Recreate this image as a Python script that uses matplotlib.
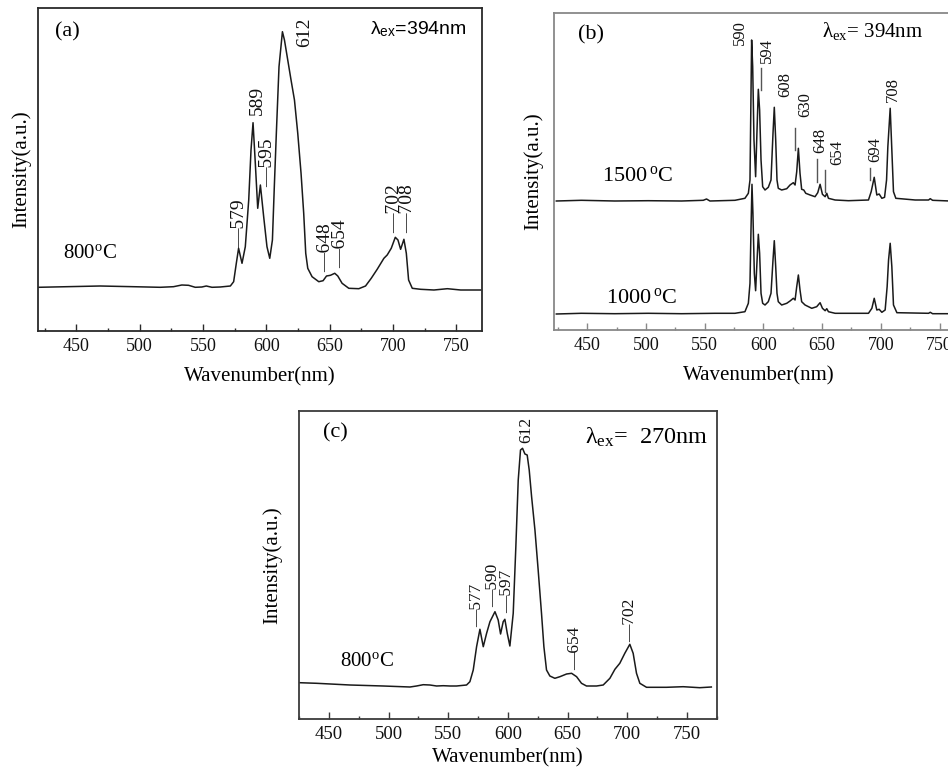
import matplotlib
matplotlib.use("Agg")
import matplotlib.pyplot as plt
from matplotlib.lines import Line2D
from matplotlib.ticker import MultipleLocator

plt.rcParams['font.family'] = ['Liberation Serif', 'DejaVu Serif']
plt.rcParams['mathtext.fontset'] = 'custom'
plt.rcParams['mathtext.rm'] = 'Liberation Serif'
plt.rcParams['mathtext.it'] = 'Liberation Serif:italic'
plt.rcParams['mathtext.bf'] = 'Liberation Serif:bold'
plt.rcParams['mathtext.sf'] = 'Liberation Sans'

# ---------------- data (wavelength nm, intensity a.u.) ----------------
a_wl = [420.0, 442.4, 468.8, 495.1, 516.2, 526.7, 533.3, 538.6, 543.9, 549.1, 552.6, 557.1,
        563.6, 571.6, 574.2, 576.3, 578.1, 580.8, 583.4, 586.1, 587.9, 589.5, 591.3, 593.2,
        595.3, 597.9, 600.5, 602.7, 604.8, 606.3, 607.9, 610.0, 612.7, 614.3, 616.9, 619.5,
        622.2, 624.8, 627.4, 629.5, 631.1, 632.7, 636.1, 641.4, 644.8, 647.5, 650.6, 654.0,
        656.4, 659.8, 665.1, 673.0, 678.3, 682.8, 687.5, 692.8, 695.4, 698.6, 701.8, 703.9,
        706.0, 708.6, 710.5, 712.3, 715.2, 721.8, 732.3, 742.9, 753.4, 769.2]
a_int = [43.7, 44.3, 45.0, 44.3, 43.7, 44.3, 46.0, 45.7, 43.7, 44.0, 45.0, 43.7,
         44.0, 45.0, 49.3, 67.7, 82.7, 67.7, 84.3, 131.0, 181.0, 208.3, 167.7, 122.7,
         146.0, 114.3, 84.3, 72.7, 91.0, 144.3, 197.7, 264.3, 299.3, 291.0, 271.0, 251.0,
         231.0, 197.7, 157.7, 117.7, 77.7, 62.7, 54.3, 49.3, 50.3, 55.0, 55.7, 57.7,
         55.0, 47.7, 42.7, 42.3, 45.0, 52.7, 61.7, 72.7, 76.0, 82.7, 93.7, 91.0,
         81.7, 91.7, 77.7, 51.0, 42.7, 41.7, 41.0, 42.3, 41.0, 41.0]

b1500_wl = [423.7, 445.0, 473.4, 501.9, 530.3, 548.8, 551.6, 554.5, 575.8, 584.3, 587.2, 588.6,
            589.4, 590.0, 590.9, 592.0, 593.4, 594.5, 595.7, 596.8, 598.0, 599.4, 601.4, 604.2,
            606.5, 608.2, 609.3, 610.5, 611.6, 612.7, 615.6, 619.9, 622.7, 625.5, 627.0, 628.4,
            629.8, 631.2, 632.6, 634.4, 636.1, 639.8, 644.0, 646.3, 648.3, 650.3, 652.6, 654.0,
            655.4, 661.1, 672.5, 689.5, 691.8, 694.4, 696.6, 698.6, 700.9, 703.2, 704.9, 706.0,
            708.0, 709.4, 710.8, 712.8, 729.3, 740.7, 742.1, 744.1, 758.9, 770.0]
b1500_int = [129.0, 129.7, 129.0, 129.3, 129.0, 129.7, 131.0, 129.0, 129.7, 131.7, 136.7, 150.0,
             230.0, 290.0, 263.3, 190.0, 153.3, 196.7, 240.7, 220.0, 170.0, 143.3, 140.0, 142.7,
             150.0, 196.7, 222.7, 190.0, 150.0, 141.7, 140.0, 141.3, 145.0, 147.3, 145.0, 158.3,
             181.7, 156.7, 140.7, 140.0, 136.7, 135.0, 133.3, 137.3, 145.7, 135.7, 133.3, 136.7,
             131.7, 130.0, 129.3, 130.0, 138.3, 152.7, 135.0, 136.0, 131.7, 132.7, 150.0, 183.3,
             221.7, 180.0, 138.3, 131.7, 130.0, 130.0, 131.3, 129.7, 129.0, 129.0]

b1000_wl = [423.7, 445.0, 473.4, 501.9, 530.3, 558.7, 575.8, 584.3, 587.2, 588.6, 589.4, 590.3,
            591.1, 592.3, 593.4, 594.5, 595.7, 596.8, 598.0, 599.4, 601.4, 604.2, 606.5, 608.2,
            609.3, 610.5, 611.6, 612.7, 615.6, 619.9, 622.7, 625.5, 627.0, 628.4, 629.8, 631.2,
            632.6, 635.5, 641.2, 645.4, 648.3, 650.3, 652.6, 654.0, 655.4, 661.1, 689.5, 692.4,
            694.4, 696.6, 698.6, 700.9, 703.7, 705.4, 706.6, 708.0, 709.4, 710.8, 713.7, 740.7,
            742.1, 744.1, 758.9, 770.0]
b1000_int = [16.0, 16.7, 16.3, 16.7, 16.3, 16.7, 16.7, 18.3, 26.7, 46.7, 96.7, 145.7,
             116.7, 56.7, 39.3, 66.7, 95.7, 76.7, 36.7, 26.7, 25.0, 28.3, 36.7, 70.0,
             89.3, 63.3, 36.7, 28.3, 25.0, 26.7, 29.0, 31.7, 30.0, 43.3, 55.0, 40.0,
             28.3, 25.0, 21.7, 23.3, 27.3, 21.7, 19.3, 21.3, 18.3, 16.7, 16.7, 21.7,
             31.7, 20.0, 20.7, 17.7, 20.0, 43.3, 70.0, 86.7, 63.3, 25.0, 17.3, 16.7,
             17.7, 16.3, 16.3, 16.3]

c_wl = [425.3, 439.8, 467.7, 495.6, 518.0, 523.5, 529.1, 534.7, 540.3, 545.9, 551.5, 557.0,
        565.4, 568.2, 571.0, 573.8, 576.6, 579.4, 582.2, 585.0, 589.2, 591.9, 593.9, 596.1,
        597.5, 599.5, 601.7, 604.5, 606.7, 608.7, 610.6, 612.3, 614.3, 616.2, 617.9, 619.9,
        622.7, 625.4, 628.2, 630.2, 632.4, 635.2, 639.4, 643.6, 649.2, 653.4, 657.6, 661.7,
        665.9, 674.3, 679.9, 685.5, 689.7, 693.8, 698.0, 702.2, 705.0, 707.8, 710.6, 716.2,
        732.9, 746.9, 760.8, 770.5]
c_int = [36.3, 35.7, 34.0, 33.0, 32.0, 33.0, 34.3, 34.0, 33.0, 33.3, 33.0, 33.0,
         34.0, 37.3, 49.0, 72.3, 89.7, 72.3, 85.7, 97.3, 107.3, 99.0, 85.0, 97.3,
         99.7, 85.7, 73.0, 105.7, 172.3, 239.0, 269.0, 270.7, 265.0, 264.0, 249.0, 222.3,
         189.0, 149.0, 105.7, 72.3, 49.0, 43.0, 40.7, 42.3, 45.0, 45.7, 42.3, 35.7,
         33.0, 33.0, 34.0, 40.7, 49.7, 55.7, 65.7, 74.7, 65.7, 45.7, 35.7, 31.7,
         31.7, 32.3, 31.3, 32.0]

a_peaks = ["579", "589", "595", "612", "648", "654", "702", "708"]
b_peaks = ["590", "594", "608", "630", "648", "654", "694", "708"]
c_peaks = ["577", "590", "597", "612", "654", "702"]

# ---------------- figure ----------------
W, H = 948, 770
fig = plt.figure(figsize=(W / 100, H / 100), dpi=100)
fig.patch.set_facecolor('white')


def box(l, t, r, b):
    return [l / W, 1 - b / H, (r - l) / W, (b - t) / H]


def px(x, y):
    return x / W, 1 - y / H


def ftext(x, y, s, **kw):
    fig.text(*px(x, y), s, **kw)


def vline(x, y0, y1, color='#333333'):
    fig.add_artist(Line2D([x / W, x / W], [1 - y0 / H, 1 - y1 / H],
                          transform=fig.transFigure, color=color, lw=1.0))


def style_axes(ax, xlim, ylim, spine_color, tick_fs):
    ax.set_xlim(*xlim)
    ax.set_ylim(*ylim)
    ax.set_yticks([])
    ax.xaxis.set_major_locator(MultipleLocator(50))
    ax.xaxis.set_minor_locator(MultipleLocator(25))
    ax.tick_params(axis='x', which='both', direction='in', top=False,
                   colors=spine_color, labelcolor='#111111', labelsize=tick_fs, pad=5)
    ax.tick_params(axis='x', which='major', length=5, width=1.0)
    ax.tick_params(axis='x', which='minor', length=2.5, width=1.0)
    for sp in ax.spines.values():
        sp.set_color(spine_color)
        sp.set_linewidth(1.3)
    ax.set_facecolor('white')


line_kw = dict(color='#1a1a1a', lw=1.1)

# ---- (a) ----
ax_a = fig.add_axes(box(38.3, 8, 481.7, 331))
ax_a.plot(a_wl, a_int, **line_kw)
style_axes(ax_a, (420, 770), (0, 323), '#2a2a2a', 13)
ax_a.set_xlabel("Wavenumber(nm)", fontsize=15, labelpad=9)
ax_a.set_ylabel("Intensity(a.u.)", fontsize=15, labelpad=5)

a_lab_pos = [(240, 248, True), (257, 115, False), (268, 187, True), (305, 47, False),
             (326, 272, True), (341, 268, True), (395, 233, True), (408, 233, True)]
for lab, (x, y, dash) in zip(a_peaks, a_lab_pos):
    ftext(x, y, ("\u2014" if dash else "") + lab, rotation=90, ha='center', va='bottom',
          fontsize=14, color='#111111')
ftext(55, 32, "(a)", fontsize=16, ha='left', va='center')
ftext(63, 253, r"800$^{\rm o}$C", fontsize=15, ha='left', va='center')
ftext(370, 29, r"$\mathsf{\lambda}_{\mathsf{ex}}$=394nm", fontsize=14, ha='left', va='center',
      family=['Liberation Sans', 'DejaVu Sans'])

# ---- (b) ----
ax_b = fig.add_axes(box(554, 13, 963, 330))
ax_b.plot(b1500_wl, b1500_int, **line_kw)
ax_b.plot(b1000_wl, b1000_int, **line_kw)
style_axes(ax_b, (421.7, 770), (0, 317), '#888888', 13)
ax_b.set_xlabel("Wavenumber(nm)", fontsize=15, labelpad=9)
ax_b.set_ylabel("Intensity(a.u.)", fontsize=15, labelpad=8)

b_lab_pos = [(740, 45), (767, 63), (785, 97), (805, 117), (820, 153), (837, 165), (875, 162), (893, 102)]
for lab, (x, y) in zip(b_peaks, b_lab_pos):
    ftext(x, y, lab, rotation=90, ha='center', va='bottom', fontsize=12, color='#111111')
for (x, y0, y1) in [(761, 68, 90), (795, 128, 150), (817, 159, 182), (825, 170, 192), (870, 168, 180)]:
    vline(x, y0, y1, color='#555555')
ftext(578, 35, "(b)", fontsize=16, ha='left', va='center')
ftext(602, 176, r"1500$\,^{\rm o}$C", fontsize=16, ha='left', va='center')
ftext(606, 298, r"1000$\,^{\rm o}$C", fontsize=16, ha='left', va='center')
ftext(822, 31, r"$\mathrm{\lambda}_{\mathrm{ex}}$= 394nm", fontsize=15, ha='left', va='center')

# ---- (c) ----
ax_c = fig.add_axes(box(299, 411, 716.7, 719))
ax_c.plot(c_wl, c_int, **line_kw)
style_axes(ax_c, (425, 775), (0, 308), '#3a3a3a', 13.5)
ax_c.set_xlabel("Wavenumber(nm)", fontsize=15, labelpad=4)
ax_c.set_ylabel("Intensity(a.u.)", fontsize=15, labelpad=12)

c_lab_pos = [(477, 627, True), (493, 607, True), (507, 613, True), (526, 443, False),
             (575, 670, True), (630, 642, True)]
for lab, (x, y, dash) in zip(c_peaks, c_lab_pos):
    ftext(x, y, ("\u2014" if dash else "") + lab, rotation=90, ha='center', va='bottom',
          fontsize=12.5, color='#111111')
ftext(323, 433, "(c)", fontsize=16, ha='left', va='center')
ftext(340, 661, r"800$^{\rm o}$C", fontsize=15, ha='left', va='center')
ftext(585, 437, r"$\mathrm{\lambda}_{\mathrm{ex}}$=  270nm", fontsize=17.5, ha='left', va='center')

fig.savefig("out.png", dpi=100, facecolor='white')
